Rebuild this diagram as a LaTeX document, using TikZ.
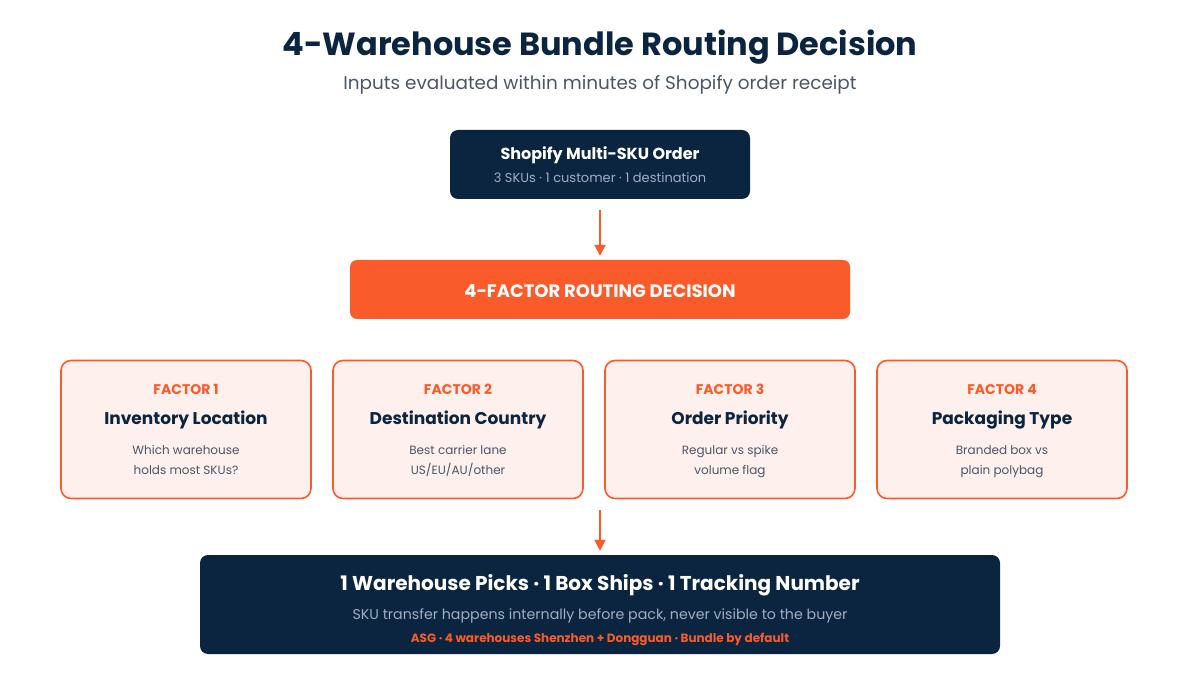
\documentclass[tikz,border=0pt]{standalone}
\usepackage{fontspec}
\setmainfont{Poppins}
\usetikzlibrary{positioning,arrows.meta}

\definecolor{navy}{HTML}{0B2540}
\definecolor{flame}{HTML}{F95B2A}
\definecolor{blush}{HTML}{FEF0EC}
\definecolor{slate}{HTML}{4A5568}
\definecolor{mist}{HTML}{A0AEC0}

\begin{document}
\begin{tikzpicture}[x=1pt,y=-1pt,
  darkbox/.style={fill=navy,rounded corners=8pt,inner sep=0pt},
  factorbox/.style={draw=flame,line width=1.6pt,fill=blush,rounded corners=10pt,minimum width=250pt,minimum height=138pt,inner sep=0pt},
  txt/.style={inner sep=0pt,anchor=base},
  flow/.style={draw=flame,line width=2pt,-{Triangle[length=11pt,width=11pt]}}]
\useasboundingbox (0,0) rectangle (1200,700);

% heading
\node[txt,font=\bfseries\fontsize{32}{38}\selectfont,text=navy] (title) at (600,55.5) {4-Warehouse Bundle Routing Decision};
\node[txt,font=\fontsize{18.4}{22}\selectfont,text=slate] (subtitle) at (600,89.5) {Inputs evaluated within minutes of Shopify order receipt};

% order
\node[darkbox,minimum width=300pt,minimum height=69pt] (order) at (600,164.5) {};
\node[txt,font=\bfseries\fontsize{16}{19}\selectfont,text=white] at (600,159.6) {Shopify Multi-SKU Order};
\node[txt,font=\fontsize{13}{15}\selectfont,text=mist] at (600,182.5) {3 SKUs · 1 customer · 1 destination};

% decision
\node[fill=flame,rounded corners=7pt,minimum width=500pt,minimum height=59pt,inner sep=0pt] (decision) at (600,289.5) {};
\node[txt,font=\bfseries\fontsize{18}{21}\selectfont,text=white] at (600,297.3) {4-FACTOR ROUTING DECISION};

\draw[flow,shorten <=11pt,shorten >=4pt] (order) -- (decision);

% factors
\foreach \ttl/\dA/\dB [count=\n] in {Inventory Location/Which warehouse/holds most SKUs?,
                                      Destination Country/Best carrier lane/{US/EU/AU/other},
                                      Order Priority/Regular vs spike/volume flag,
                                      Packaging Type/Branded box vs/plain polybag} {
  \node[factorbox] (F\n) at ({186+(\n-1)*272},429.5) {};
  \node[txt,font=\bfseries\fontsize{14}{16}\selectfont,text=flame] at ([yshift=34.5pt]F\n.center) {FACTOR \n};
  \node[txt,font=\bfseries\fontsize{17}{21}\selectfont,text=navy] at ([yshift=4.5pt]F\n.center) {\ttl};
  \node[txt,font=\fontsize{12}{15}\selectfont,text=slate] at ([yshift=-24.8pt]F\n.center) {\dA};
  \node[txt,font=\fontsize{12}{15}\selectfont,text=slate] at ([yshift=-44.8pt]F\n.center) {\dB};
}
\coordinate (rowbot) at (600,499);

% result
\node[darkbox,minimum width=800pt,minimum height=99pt] (result) at (600,604.5) {};
\node[txt,font=\bfseries\fontsize{20}{24}\selectfont,text=white] at (600,590) {1 Warehouse Picks · 1 Box Ships · 1 Tracking Number};
\node[txt,font=\fontsize{14.2}{17}\selectfont,text=mist] at (600,619) {SKU transfer happens internally before pack, never visible to the buyer};
\node[txt,font=\bfseries\fontsize{12}{14}\selectfont,text=flame] at (600,642.2) {ASG · 4 warehouses Shenzhen + Dongguan · Bundle by default};

\draw[flow,shorten <=11pt,shorten >=4pt] (rowbot) -- (result);
\end{tikzpicture}
\end{document}
